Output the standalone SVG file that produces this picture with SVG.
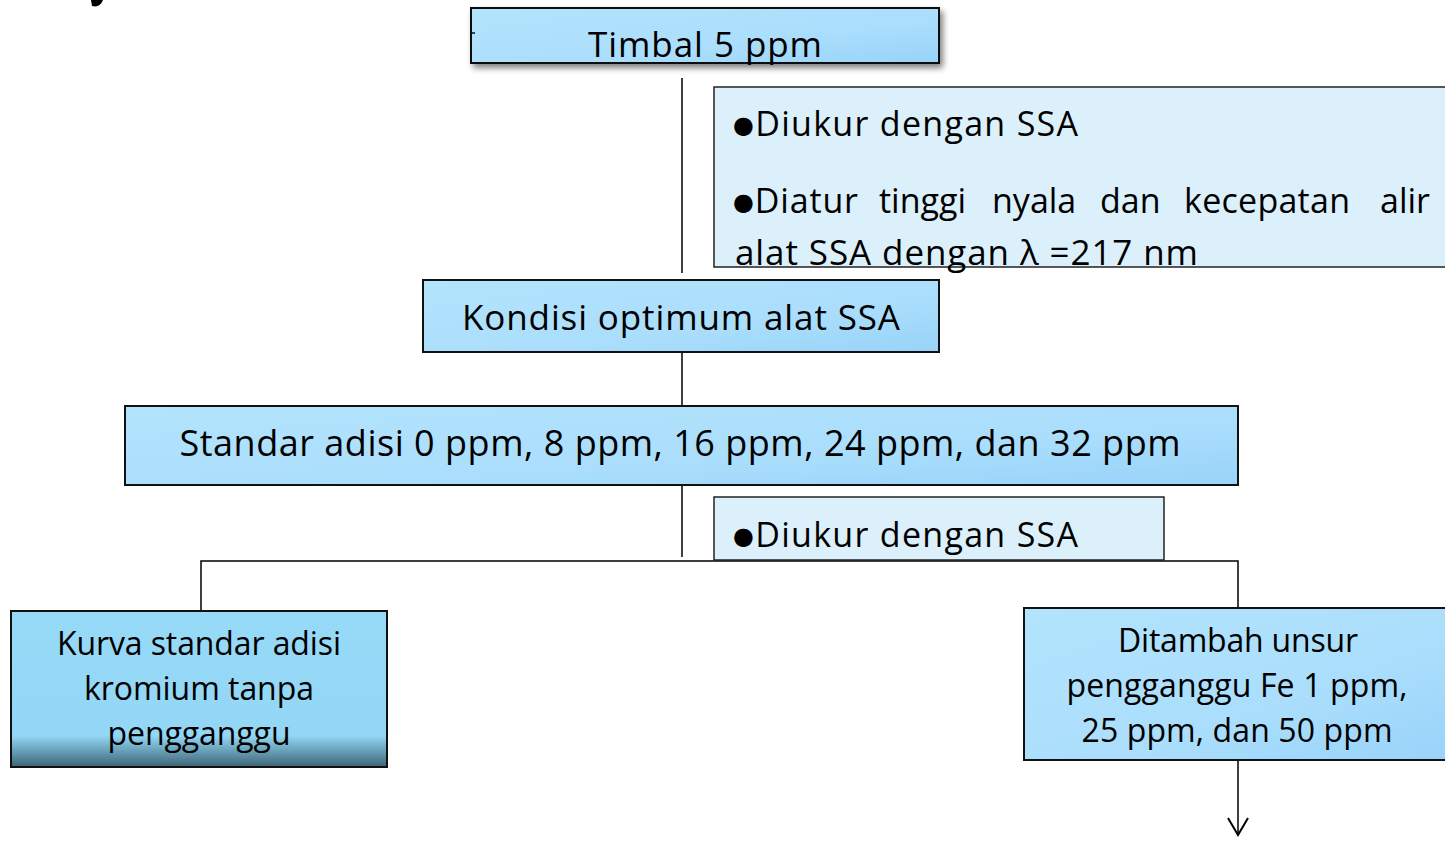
<svg xmlns="http://www.w3.org/2000/svg" width="1445" height="841" viewBox="0 0 1445 841">
<style>
.box{stroke:#111;stroke-width:2}
.note{fill:#dcf0fb;stroke:#222;stroke-width:1.5}
.t{font-family:"Open Sans","Liberation Sans",sans-serif;fill:#000}
.c{text-anchor:middle}
.ln{stroke:#000;stroke-width:1.5;fill:none}
.b{font-size:24px;font-family:"DejaVu Sans",sans-serif}
</style>
<defs>
<linearGradient id="g1" x1="0" y1="0" x2="1" y2="1">
<stop offset="0" stop-color="#b3e4fd"/><stop offset="0.6" stop-color="#abdefc"/><stop offset="1" stop-color="#98d3f9"/>
</linearGradient>
<linearGradient id="g2" x1="0" y1="0" x2="0" y2="1">
<stop offset="0" stop-color="#97daf8"/><stop offset="0.8" stop-color="#93d6f5"/><stop offset="0.88" stop-color="#6fa9c2"/><stop offset="1" stop-color="#3d6577"/>
</linearGradient>
<filter id="sh" x="-5%" y="-20%" width="112%" height="160%">
<feGaussianBlur in="SourceAlpha" stdDeviation="3"/>
<feOffset dx="3" dy="4"/>
<feComponentTransfer><feFuncA type="linear" slope="0.5"/></feComponentTransfer>
<feMerge><feMergeNode/><feMergeNode in="SourceGraphic"/></feMerge>
</filter>
<marker id="arr" markerWidth="24" markerHeight="24" refX="20" refY="12" orient="auto" markerUnits="userSpaceOnUse">
<path d="M3,2 L20,12 L3,22" fill="none" stroke="#000" stroke-width="2"/>
</marker>
</defs>
<rect width="1445" height="841" fill="#fff"/>
<path d="M91,0 L103,0 Q100,8 92,6 Z" fill="#000"/>

<g id="connectors">
<line class="ln" x1="682" y1="78" x2="682" y2="273"/>
<line class="ln" x1="682" y1="352" x2="682" y2="406"/>
<line class="ln" x1="682" y1="485" x2="682" y2="557"/>
<polyline class="ln" points="201,611 201,561 1238,561 1238,608"/>
<line class="ln" x1="1238" y1="760" x2="1238" y2="835" marker-end="url(#arr)"/>
</g>

<g id="timbal">
<rect class="box" x="471" y="8" width="468" height="55" fill="url(#g1)" filter="url(#sh)"/>
<line x1="471" y1="33" x2="475" y2="33" stroke="#111" stroke-width="1.5"/>
<text class="t c" x="705" y="57" font-size="35" textLength="234">Timbal 5 ppm</text>
</g>

<g id="note1">
<rect class="note" x="714" y="87" width="740" height="180"/>
<text class="t" x="733" y="136" font-size="34" textLength="345"><tspan class="b" dy="-3">●</tspan><tspan dy="3">Diukur dengan SSA</tspan></text>
<g class="t" font-size="34">
<text x="733" y="213" textLength="125"><tspan class="b" dy="-3">●</tspan><tspan dy="3">Diatur</tspan></text>
<text x="879" y="213">tinggi</text>
<text x="992" y="213">nyala</text>
<text x="1100" y="213">dan</text>
<text x="1184" y="213" textLength="166">kecepatan</text>
<text x="1430" y="213" text-anchor="end">alir</text>
</g>
<text class="t" x="735" y="265" font-size="35" textLength="463">alat SSA dengan λ =217 nm</text>
</g>

<g id="kondisi">
<rect class="box" x="423" y="280" width="516" height="72" fill="url(#g1)"/>
<text class="t c" x="681" y="330" font-size="35" textLength="438">Kondisi optimum alat SSA</text>
</g>

<g id="standar">
<rect class="box" x="125" y="406" width="1113" height="79" fill="url(#g1)"/>
<text class="t c" x="680" y="456" font-size="36" textLength="1001">Standar adisi 0 ppm, 8 ppm, 16 ppm, 24 ppm, dan 32 ppm</text>
</g>

<g id="note2">
<rect class="note" x="714" y="497" width="450" height="63"/>
<text class="t" x="733" y="547" font-size="34" textLength="345"><tspan class="b" dy="-3">●</tspan><tspan dy="3">Diukur dengan SSA</tspan></text>
</g>

<g id="kurva">
<rect class="box" x="11" y="611" width="376" height="156" fill="url(#g2)"/>
<text class="t c" x="199" y="655" font-size="32" textLength="284">Kurva standar adisi</text>
<text class="t c" x="199" y="700" font-size="32" textLength="230">kromium tanpa</text>
<text class="t c" x="199" y="745" font-size="32" textLength="183">pengganggu</text>
</g>

<g id="ditambah">
<rect class="box" x="1024" y="608" width="430" height="152" fill="url(#g1)"/>
<text class="t c" x="1238" y="652" font-size="32" textLength="240">Ditambah unsur</text>
<text class="t c" x="1237" y="697" font-size="32" textLength="341">pengganggu Fe 1 ppm,</text>
<text class="t c" x="1237" y="742" font-size="32" textLength="311">25 ppm, dan 50 ppm</text>
</g>
</svg>
